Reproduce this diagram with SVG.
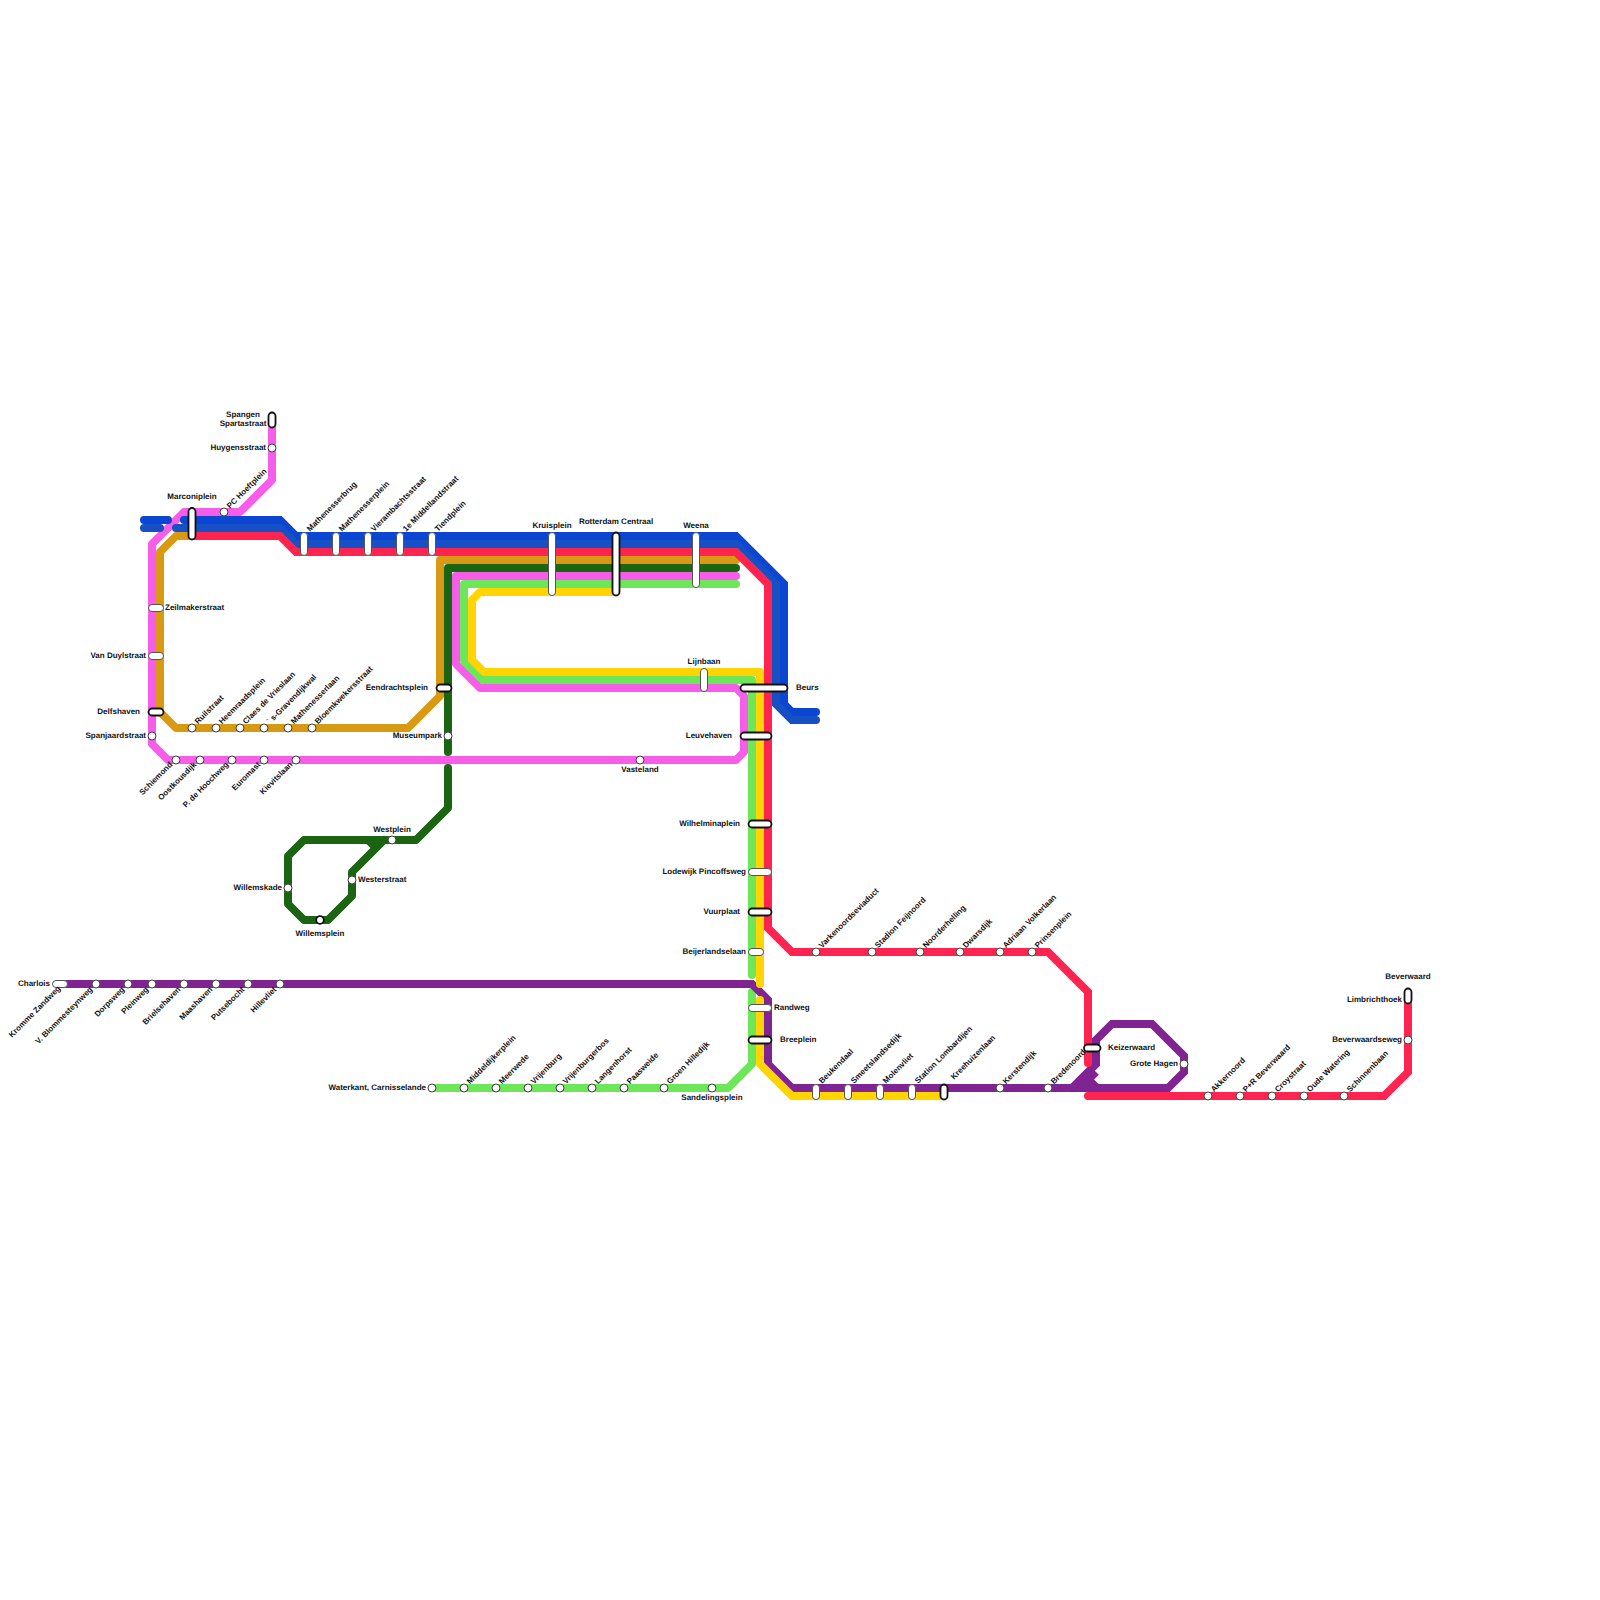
<svg xmlns="http://www.w3.org/2000/svg" width="1600" height="1600" viewBox="0 0 1600 1600">
<style>
.ln{fill:none;stroke-width:8;stroke-linecap:round;stroke-linejoin:miter}
.rj{stroke-linejoin:round}
.pink{stroke:#f65de8}.gold{stroke:#d99a13}.blue1{stroke:#0b46d2}.blue2{stroke:#1650c4}.red{stroke:#ff2450}.dk{stroke:#1b6412}.lg{stroke:#6de65a}.pur{stroke:#802491}.yel{stroke:#ffd400}
.c{fill:#fff;stroke:#444;stroke-width:1}
.p{fill:#fff;stroke:#555;stroke-width:1}
.k{fill:#fff;stroke:#111;stroke-width:1.8}
text{font-family:"Liberation Sans",Arial,sans-serif;font-size:8px;font-weight:bold;fill:#111;text-rendering:geometricPrecision}
.m{text-anchor:middle}.e{text-anchor:end}
</style>
<rect width="1600" height="1600" fill="#fff"/>
<g id="connectors">
<path class="ln rj pink" d="M272 420V480L240 512H184L152 544V744L168 760H736L744 752V696L736 688H480L456 664V576H736"/>
<path class="ln rj gold" d="M192 536H176L160 552V712L176 728H408L440 696V560H736"/>
<path class="ln blue1" d="M144 520H168M184 520H280L296 536H736L784 584V704L792 712H816"/>
<path class="ln blue2" d="M144 528H160M176 528H280L296 544H736L776 584V704L792 720H816"/>
<path class="ln rj dk" d="M736 568H448V752M448 768V808L416 840H304L288 856V904L304 920H328L352 896V872L384 840"/>
<path class="ln dk" style="stroke-linecap:butt" d="M368 840L376 848"/>
<path class="ln rj lg" d="M736 584H464V661L483 680H752V975M752 992V1064L728 1088H432"/>
<path class="ln pur" d="M60 984H752L768 1000V1064L792 1088H1168L1184 1072V1056L1152 1024H1112L1096 1040V1064L1072 1088"/>
<path class="ln pur" style="stroke-linecap:butt" d="M1096 1072L1080 1088M1085 1076L1097 1088"/>
<path class="ln red" d="M192 536H280L296 552H736L768 584V928L792 952H1048L1088 992V1063M1088 1096H1384L1408 1072V996"/>
<path class="ln rj yel" d="M616 592H480L472 600V660L484 672H760V984M760 1000V1064L792 1096H944"/>
</g>
<g id="spangen"><rect class="k" x="268.5" y="412.5" width="7" height="15" rx="3.5"/><text class="m" x="243" y="417">Spangen</text><text class="m" x="243" y="426">Spartastraat</text></g>
<g id="huygensstraat"><circle class="c" cx="272" cy="448" r="4"/><text class="e" x="266" y="450">Huygensstraat</text></g>
<g id="pc-hoeftplein"><circle class="c" cx="224" cy="512" r="4"/><text transform="translate(230 509) rotate(-45)">PC Hoeftplein</text></g>
<g id="marconiplein"><rect class="k" x="188.5" y="508" width="7" height="31.5" rx="3.5"/><text class="m" x="192" y="499">Marconiplein</text></g>
<g id="mathenesserbrug"><rect class="p" x="300.5" y="532.5" width="7" height="23" rx="3.5"/><text transform="translate(310 532) rotate(-45)">Mathenesserbrug</text></g>
<g id="mathenesserplein"><rect class="p" x="332.5" y="532.5" width="7" height="23" rx="3.5"/><text transform="translate(342 532) rotate(-45)">Mathenesserplein</text></g>
<g id="vierambachtsstraat"><rect class="p" x="364.5" y="532.5" width="7" height="23" rx="3.5"/><text transform="translate(374 532) rotate(-45)">Vierambachtsstraat</text></g>
<g id="middellandstraat"><rect class="p" x="396.5" y="532.5" width="7" height="23" rx="3.5"/><text transform="translate(406 532) rotate(-45)">1e Middellandstraat</text></g>
<g id="tiendplein"><rect class="p" x="428.5" y="532.5" width="7" height="23" rx="3.5"/><text transform="translate(438 532) rotate(-45)">Tiendplein</text></g>
<g id="kruisplein"><rect class="p" x="548.5" y="532.5" width="7" height="63" rx="3.5"/><text class="m" x="552" y="528">Kruisplein</text></g>
<g id="rotterdam-centraal"><rect class="k" x="612.5" y="532.5" width="7" height="63" rx="3.5"/><text class="m" x="616" y="524">Rotterdam Centraal</text></g>
<g id="weena"><rect class="p" x="692.5" y="532.5" width="7" height="55" rx="3.5"/><text class="m" x="696" y="528">Weena</text></g>
<g id="lijnbaan"><rect class="p" x="700.5" y="668.5" width="7" height="23" rx="3.5"/><text class="m" x="704" y="664">Lijnbaan</text></g>
<g id="beurs"><rect class="k" x="740.5" y="684.5" width="47" height="7" rx="3.5"/><text x="796" y="690">Beurs</text></g>
<g id="eendrachtsplein"><rect class="k" x="436.5" y="684.5" width="15" height="7" rx="3.5"/><text class="e" x="428" y="690">Eendrachtsplein</text></g>
<g id="leuvehaven"><rect class="k" x="740.5" y="732.5" width="31" height="7" rx="3.5"/><text class="e" x="732" y="738">Leuvehaven</text></g>
<g id="museumpark"><circle class="c" cx="448" cy="736" r="4"/><text class="e" x="442" y="738">Museumpark</text></g>
<g id="zeilmakerstraat"><rect class="p" x="148.5" y="604.5" width="15" height="7" rx="3.5"/><text x="165" y="609.5">Zeilmakerstraat</text></g>
<g id="van-duylstraat"><rect class="p" x="148.5" y="652.5" width="15" height="7" rx="3.5"/><text class="e" x="146" y="658">Van Duylstraat</text></g>
<g id="delfshaven"><rect class="k" x="148.5" y="708.5" width="15" height="7" rx="3.5"/><text class="e" x="140" y="714">Delfshaven</text></g>
<g id="spanjaardstraat"><circle class="c" cx="152" cy="736" r="4"/><text class="e" x="146" y="738">Spanjaardstraat</text></g>
<g id="ruilstraat"><circle class="c" cx="192" cy="728" r="4"/><text transform="translate(198 724.5) rotate(-45)">Ruilstraat</text></g>
<g id="heemraadsplein"><circle class="c" cx="216" cy="728" r="4"/><text transform="translate(222 724.5) rotate(-45)">Heemraadsplein</text></g>
<g id="claes-de-vrieslaan"><circle class="c" cx="240" cy="728" r="4"/><text transform="translate(246 724.5) rotate(-45)">Claes de Vrieslaan</text></g>
<g id="s-gravendijkwal"><circle class="c" cx="264" cy="728" r="4"/><text transform="translate(270 724.5) rotate(-45)" xml:space="preserve">` s-Gravendijkwal</text></g>
<g id="mathenesserlaan"><circle class="c" cx="288" cy="728" r="4"/><text transform="translate(294 724.5) rotate(-45)">Mathenesserlaan</text></g>
<g id="bloemkwekersstraat"><circle class="c" cx="312" cy="728" r="4"/><text transform="translate(318 724.5) rotate(-45)">Bloemkwekersstraat</text></g>
<g id="schiemond"><circle class="c" cx="176" cy="760" r="4"/><text class="e" transform="translate(173 765) rotate(-45)">Schiemond</text></g>
<g id="oostkousdijk"><circle class="c" cx="200" cy="760" r="4"/><text class="e" transform="translate(197 765) rotate(-45)">Oostkousdijk</text></g>
<g id="p-de-hoochweg"><circle class="c" cx="232" cy="760" r="4"/><text class="e" transform="translate(229 765) rotate(-45)">P. de Hoochweg</text></g>
<g id="euromast"><circle class="c" cx="264" cy="760" r="4"/><text class="e" transform="translate(261 765) rotate(-45)">Euromast</text></g>
<g id="kievitslaan"><circle class="c" cx="296" cy="760" r="4"/><text class="e" transform="translate(293 765) rotate(-45)">Kievitslaan</text></g>
<g id="vasteland"><circle class="c" cx="640" cy="760" r="4"/><text class="m" x="640" y="772">Vasteland</text></g>
<g id="westplein"><circle class="c" cx="392" cy="840" r="4"/><text class="m" x="392" y="832">Westplein</text></g>
<g id="westerstraat"><circle class="c" cx="352" cy="880" r="4"/><text x="358" y="882">Westerstraat</text></g>
<g id="willemskade"><circle class="c" cx="288" cy="888" r="4"/><text class="e" x="282" y="890">Willemskade</text></g>
<g id="willemsplein"><circle class="k" cx="320" cy="920" r="3.8"/><text class="m" x="320" y="936">Willemsplein</text></g>
<g id="charlois"><rect class="p" x="52.5" y="980.5" width="15" height="7" rx="3.5"/><text class="e" x="50" y="986">Charlois</text><text class="e" transform="translate(61 989) rotate(-45)">Kromme Zandweg</text></g>
<g id="v-blommesteynweg"><circle class="c" cx="96" cy="984" r="4"/><text class="e" transform="translate(93 990) rotate(-45)">V. Blommesteynweg</text></g>
<g id="dorpsweg"><circle class="c" cx="128" cy="984" r="4"/><text class="e" transform="translate(125 990) rotate(-45)">Dorpsweg</text></g>
<g id="pleinweg"><circle class="c" cx="152" cy="984" r="4"/><text class="e" transform="translate(149 990) rotate(-45)">Pleinweg</text></g>
<g id="brielsehaven"><circle class="c" cx="184" cy="984" r="4"/><text class="e" transform="translate(181 990) rotate(-45)">Brielsehaven</text></g>
<g id="maashaven"><circle class="c" cx="216" cy="984" r="4"/><text class="e" transform="translate(213 990) rotate(-45)">Maashaven</text></g>
<g id="putsebocht"><circle class="c" cx="248" cy="984" r="4"/><text class="e" transform="translate(245 990) rotate(-45)">Putsebocht</text></g>
<g id="hillevliet"><circle class="c" cx="280" cy="984" r="4"/><text class="e" transform="translate(277 990) rotate(-45)">Hillevliet</text></g>
<g id="waterkant"><circle class="c" cx="432" cy="1088" r="4"/><text class="e" x="426" y="1090">Waterkant, Carnisselande</text></g>
<g id="middeldijkerplein"><circle class="c" cx="464" cy="1088" r="4"/><text transform="translate(470 1084.5) rotate(-45)">Middeldijkerplein</text></g>
<g id="meerwede"><circle class="c" cx="496" cy="1088" r="4"/><text transform="translate(502 1084.5) rotate(-45)">Meerwede</text></g>
<g id="vrijenburg"><circle class="c" cx="528" cy="1088" r="4"/><text transform="translate(534 1084.5) rotate(-45)">Vrijenburg</text></g>
<g id="vrijenburgerbos"><circle class="c" cx="560" cy="1088" r="4"/><text transform="translate(566 1084.5) rotate(-45)">Vrijenburgerbos</text></g>
<g id="langenhorst"><circle class="c" cx="592" cy="1088" r="4"/><text transform="translate(598 1084.5) rotate(-45)">Langenhorst</text></g>
<g id="paasweide"><circle class="c" cx="624" cy="1088" r="4"/><text transform="translate(630 1084.5) rotate(-45)">Paasweide</text></g>
<g id="groen-hilledijk"><circle class="c" cx="664" cy="1088" r="4"/><text transform="translate(670 1084.5) rotate(-45)">Groen Hilledijk</text></g>
<g id="sandelingsplein"><circle class="c" cx="712" cy="1088" r="4"/><text class="m" x="712" y="1100">Sandelingsplein</text></g>
<g id="wilhelminaplein"><rect class="k" x="748.5" y="820.5" width="23" height="7" rx="3.5"/><text class="e" x="740" y="826">Wilhelminaplein</text></g>
<g id="lodewijk-pincoffsweg"><rect class="p" x="748.5" y="868.5" width="23" height="7" rx="3.5"/><text class="e" x="746" y="874">Lodewijk Pincoffsweg</text></g>
<g id="vuurplaat"><rect class="k" x="748.5" y="908.5" width="23" height="7" rx="3.5"/><text class="e" x="740" y="914">Vuurplaat</text></g>
<g id="beijerlandselaan"><rect class="p" x="748.5" y="948.5" width="15" height="7" rx="3.5"/><text class="e" x="746" y="954">Beijerlandselaan</text></g>
<g id="randweg"><rect class="p" x="748.5" y="1004.5" width="23" height="7" rx="3.5"/><text x="774" y="1010">Randweg</text></g>
<g id="breeplein"><rect class="k" x="748.5" y="1036.5" width="23" height="7" rx="3.5"/><text x="780" y="1042">Breeplein</text></g>
<g id="varkenoordseviaduct"><circle class="c" cx="816" cy="952" r="4"/><text transform="translate(822 948.5) rotate(-45)">Varkenoordseviaduct</text></g>
<g id="stadion-feijnoord"><circle class="c" cx="872" cy="952" r="4"/><text transform="translate(878 948.5) rotate(-45)">Stadion Feijnoord</text></g>
<g id="noorderhelling"><circle class="c" cx="920" cy="952" r="4"/><text transform="translate(926 948.5) rotate(-45)">Noorderhelling</text></g>
<g id="dwarsdijk"><circle class="c" cx="960" cy="952" r="4"/><text transform="translate(966 948.5) rotate(-45)">Dwarsdijk</text></g>
<g id="adriaan-volkerlaan"><circle class="c" cx="1000" cy="952" r="4"/><text transform="translate(1006 948.5) rotate(-45)">Adriaan Volkerlaan</text></g>
<g id="prinsenplein"><circle class="c" cx="1032" cy="952" r="4"/><text transform="translate(1038 948.5) rotate(-45)">Prinsenplein</text></g>
<g id="beukendaal"><rect class="p" x="812.5" y="1084.5" width="7" height="15" rx="3.5"/><text transform="translate(822 1084) rotate(-45)">Beukendaal</text></g>
<g id="smeetslandsedijk"><rect class="p" x="844.5" y="1084.5" width="7" height="15" rx="3.5"/><text transform="translate(854 1084) rotate(-45)">Smeetslandsedijk</text></g>
<g id="molenvliet"><rect class="p" x="876.5" y="1084.5" width="7" height="15" rx="3.5"/><text transform="translate(886 1084) rotate(-45)">Molenvliet</text></g>
<g id="station-lombardijen"><rect class="p" x="908.5" y="1084.5" width="7" height="15" rx="3.5"/><text transform="translate(918 1084) rotate(-45)">Station Lombardijen</text></g>
<g id="kreehuizenlaan"><rect class="k" x="940.5" y="1084.5" width="7" height="15" rx="3.5"/><text transform="translate(954 1080) rotate(-45)">Kreehuizenlaan</text></g>
<g id="kerstendijk"><circle class="c" cx="1000" cy="1088" r="4"/><text transform="translate(1006 1084.5) rotate(-45)">Kerstendijk</text></g>
<g id="bredenoord"><circle class="c" cx="1048" cy="1088" r="4"/><text transform="translate(1054 1084.5) rotate(-45)">Bredenoord</text></g>
<g id="keizerwaard"><rect class="k" x="1084" y="1044.5" width="16.5" height="7" rx="3.5"/><text x="1108" y="1049.5">Keizerwaard</text></g>
<g id="grote-hagen"><circle class="c" cx="1184" cy="1064" r="4"/><text class="e" x="1178" y="1066">Grote Hagen</text></g>
<g id="akkernoord"><circle class="c" cx="1208" cy="1096" r="4"/><text transform="translate(1214 1092.5) rotate(-45)">Akkernoord</text></g>
<g id="pr-beverwaard"><circle class="c" cx="1240" cy="1096" r="4"/><text transform="translate(1246 1092.5) rotate(-45)">P+R Beverwaard</text></g>
<g id="croystraat"><circle class="c" cx="1272" cy="1096" r="4"/><text transform="translate(1278 1092.5) rotate(-45)">Croystraat</text></g>
<g id="oude-watering"><circle class="c" cx="1304" cy="1096" r="4"/><text transform="translate(1310 1092.5) rotate(-45)">Oude Watering</text></g>
<g id="schinnenbaan"><circle class="c" cx="1344" cy="1096" r="4"/><text transform="translate(1350 1092.5) rotate(-45)">Schinnenbaan</text></g>
<g id="beverwaardseweg"><circle class="c" cx="1408" cy="1040" r="4"/><text class="e" x="1402" y="1042">Beverwaardseweg</text></g>
<g id="limbrichthoek"><rect class="k" x="1404.5" y="988.5" width="7" height="15" rx="3.5"/><text class="m" x="1408" y="979">Beverwaard</text><text class="e" x="1402" y="1002">Limbrichthoek</text></g>
</svg>
